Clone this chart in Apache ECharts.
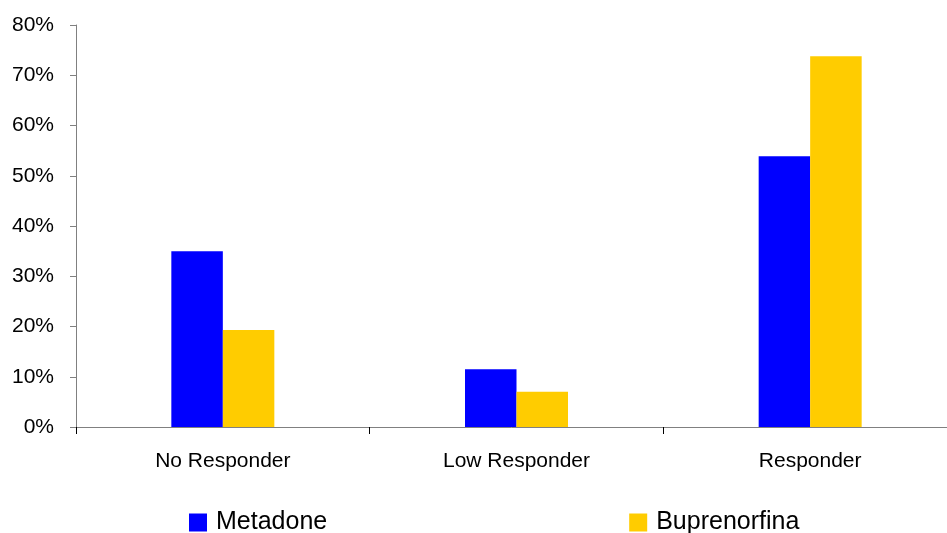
<!DOCTYPE html>
<html>
<head>
<meta charset="utf-8">
<script src="https://cdn.jsdelivr.net/npm/echarts@6/dist/echarts.min.js"></script>
<style>
html,body{margin:0;padding:0;background:#fff;}
#chart{width:947px;height:533px;}
</style>
</head>
<body>
<div id="chart"></div>
<script>
var categories = ['No Responder', 'Low Responder', 'Responder'];
var metadone = [35.0, 11.5, 53.9];
var buprenorfina = [19.3, 7.0, 73.8];
var yTicks = [0, 10, 20, 30, 40, 50, 60, 70, 80];

var chart = echarts.init(document.getElementById('chart'));
var font = 'Liberation Sans, Arial, sans-serif';
chart.setOption({
  animation: false,
  backgroundColor: '#ffffff',
  grid: {left: 76, top: 25, width: 881, height: 402, containLabel: false, outerBoundsMode: 'none'},
  legend: {
    data: ['Metadone', 'Buprenorfina'],
    left: 189, top: 510, padding: 0,
    itemGap: 302, itemWidth: 18, itemHeight: 18,
    icon: 'rect',
    textStyle: {fontFamily: font, fontSize: 25, color: '#000', padding: [0,0,0,4]}
  },
  xAxis: {
    type: 'category',
    data: categories,
    boundaryGap: true,
    axisLine: {lineStyle: {color: '#808080', width: 1}},
    axisTick: {show: true, length: 7, lineStyle: {color: '#000'}},
    axisLabel: {fontFamily: font, fontSize: 21, color: '#000', margin: 24},
    splitLine: {show: false}
  },
  yAxis: {
    type: 'value',
    min: yTicks[0], max: yTicks[yTicks.length-1], interval: 10,
    axisLine: {show: true, lineStyle: {color: '#808080', width: 1}},
    axisTick: {show: true, length: 6, lineStyle: {color: '#808080'}},
    axisLabel: {fontFamily: font, fontSize: 21, color: '#000', margin: 22, formatter: '{value}%'},
    splitLine: {show: false}
  },
  series: [
    {name: 'Metadone', type: 'bar', data: metadone, barWidth: 51.5, barGap: '0%', itemStyle: {color: '#0000FF'}},
    {name: 'Buprenorfina', type: 'bar', data: buprenorfina, barWidth: 51.5, barGap: '0%', itemStyle: {color: '#FFCC00'}}
  ]
});
</script>
</body>
</html>
